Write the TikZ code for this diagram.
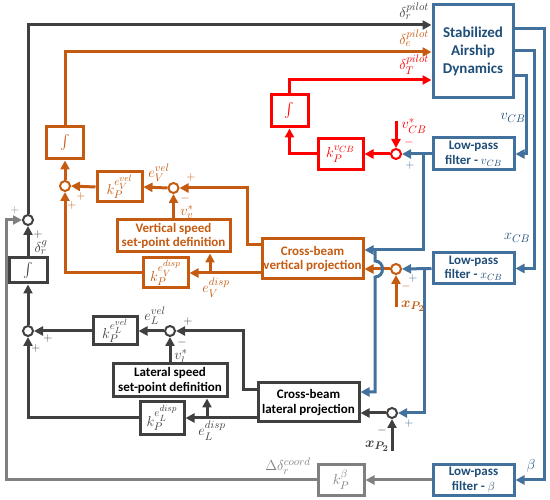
\documentclass[tikz,border=0pt]{standalone}
\usepackage{fontspec}
\setmainfont{Carlito}
\usepackage{amsmath}
\usetikzlibrary{arrows.meta,positioning}
\DeclareMathSizes{14}{14}{11}{9}
\DeclareMathSizes{15}{15}{11.5}{9.5}
\definecolor{DarkGray}{RGB}{64,64,64}
\definecolor{MidGray}{RGB}{128,128,128}
\definecolor{CBOrange}{RGB}{197,90,17}
\definecolor{CBRed}{RGB}{255,0,0}
\definecolor{SteelBlue}{RGB}{65,113,156}
\definecolor{NavyText}{RGB}{31,78,121}
\tikzset{
  blockbox/.style={draw,line width=3pt,inner sep=0pt,align=center,fill=white,
    font=\bfseries\fontsize{13}{14.5}\selectfont},
  gainbox/.style={draw,line width=3pt,inner sep=0pt,align=center,fill=white,
    font=\fontsize{14}{16}\selectfont},
  sumnode/.style={circle,draw,line width=2pt,fill=white,minimum size=10pt,inner sep=0pt},
  wire/.style={line width=3pt,-{Triangle[length=9pt,width=9pt]}},
  lbl/.style={font=\fontsize{14}{16}\selectfont,inner sep=1pt},
  sgn/.style={font=\fontsize{12}{13}\selectfont,inner sep=0pt},
}

\begin{document}
\begin{tikzpicture}[x=1pt,y=-1pt]
  \useasboundingbox (0,0) rectangle (550,500);

  % plant and filters
  \node[blockbox,draw=SteelBlue,text=NavyText,minimum width=80pt,minimum height=93pt,
    font=\bfseries\fontsize{15}{18}\selectfont] (dyn) at (473,51.5) {Stabilized\\Airship\\Dynamics};
  \node[blockbox,draw=SteelBlue,text=NavyText,minimum width=81pt,minimum height=32pt] (fv) at (473.5,154) {Low-pass\\filter - $v_{CB}$};
  \node[blockbox,draw=SteelBlue,text=NavyText,minimum width=81pt,minimum height=31pt] (fx) at (473.5,268.5) {Low-pass\\filter - $x_{CB}$};
  \node[blockbox,draw=SteelBlue,text=NavyText,minimum width=81pt,minimum height=30pt] (fb) at (473.5,480) {Low-pass\\filter - $\beta$};
  \node[gainbox,draw=MidGray,text=MidGray,minimum width=46pt,minimum height=30pt] (kb) at (341,480) {$k_P^{\beta}$};

  % thrust loop
  \node[gainbox,draw=CBRed,text=CBRed,minimum width=37pt,minimum height=32pt] (rint) at (289.5,111) {$\int$};
  \node[gainbox,draw=CBRed,text=CBRed,minimum width=45pt,minimum height=31pt] (rk) at (340.5,154) {$k_P^{v_{CB}}$};
  \node[sumnode,draw=CBRed] (rsum) at (396,154) {};

  % vertical loop
  \node[gainbox,draw=CBOrange,text=CBOrange,minimum width=37pt,minimum height=32pt] (oint) at (65,143) {$\int$};
  \node[sumnode,draw=CBOrange] (osum1) at (65,186) {};
  \node[gainbox,draw=CBOrange,text=CBOrange,minimum width=45pt,minimum height=30pt] (okv) at (119.5,187) {$k_P^{e_V^{vel}}$};
  \node[sumnode,draw=CBOrange] (osum2) at (173.5,188) {};
  \node[blockbox,draw=CBOrange,text=CBOrange,minimum width=113pt,minimum height=32pt] (osp) at (173.5,236) {Vertical speed\\set-point definition};
  \node[gainbox,draw=CBOrange,text=CBOrange,minimum width=45pt,minimum height=30pt] (okd) at (165.5,273) {$k_P^{e_V^{disp}}$};
  \node[blockbox,draw=CBOrange,text=CBOrange,minimum width=101pt,minimum height=40pt] (ovp) at (312.5,259) {Cross-beam\\vertical projection};
  \node[sumnode,draw=CBOrange] (osum3) at (396,269) {};

  % lateral loop
  \node[sumnode,draw=DarkGray] (gsum1) at (28,220) {};
  \node[gainbox,draw=DarkGray,text=DarkGray,minimum width=38pt,minimum height=25pt] (gint) at (28,270.5) {$\int$};
  \node[sumnode,draw=DarkGray] (gsum2) at (28,331) {};
  \node[gainbox,draw=DarkGray,text=DarkGray,minimum width=44pt,minimum height=28pt] (gkv) at (115,331) {$k_P^{e_L^{vel}}$};
  \node[sumnode,draw=DarkGray] (gsum3) at (170,331) {};
  \node[blockbox,draw=DarkGray,text=black,minimum width=114pt,minimum height=33pt] (gsp) at (170,380.5) {Lateral speed\\set-point definition};
  \node[gainbox,draw=DarkGray,text=DarkGray,minimum width=44pt,minimum height=33pt] (gkd) at (162,418) {$k_P^{e_L^{disp}}$};
  \node[blockbox,draw=DarkGray,text=black,minimum width=101pt,minimum height=39pt] (glp) at (308.5,402.5) {Cross-beam\\lateral projection};
  \node[sumnode,draw=DarkGray] (gsum4) at (392,413) {};

  % helper points
  \coordinate (yr) at (0,25);
  \coordinate (ye) at (0,52);
  \coordinate (yt) at (0,80);
  \coordinate (b1) at (544,29);
  \coordinate (b2) at (534,51);
  \coordinate (b3) at (526,76);
  \coordinate (vb) at (423,154);
  \coordinate (vt) at (375,250);
  \coordinate (vl) at (375,392);
  \coordinate (xb) at (424,268.5);
  \coordinate (gl) at (6,480);
  \coordinate (vcbs) at (396,121);
  \coordinate (xp1) at (396,307);
  \coordinate (xp2) at (392,451);
  \coordinate (oa) at (247,245);
  \coordinate (ob) at (210,273);
  \coordinate (ga) at (243,390);
  \coordinate (gb) at (207,418);

  % pilot inputs
  \draw[wire,DarkGray] (gsum1.north) |- (dyn.west |- yr);
  \draw[wire,CBOrange] (oint.north) |- (dyn.west |- ye);
  \draw[wire,CBRed] (rint.north) |- (dyn.west |- yt);
  \node[lbl,DarkGray,anchor=east] at (430,11) {$\delta_r^{pilot}$};
  \node[lbl,CBOrange,anchor=east] at (430,38) {$\delta_e^{pilot}$};
  \node[lbl,CBRed,anchor=east] at (430,65) {$\delta_T^{pilot}$};

  % measurements
  \draw[wire,SteelBlue] (dyn.east |- b1) -- (b1) |- (fb.east);
  \draw[wire,SteelBlue] (dyn.east |- b2) -- (b2) |- (fx.east);
  \draw[wire,SteelBlue] (dyn.east |- b3) -- (b3) |- (fv.east);
  \node[lbl,NavyText] at (513,118) {$v_{CB}$};
  \node[lbl,NavyText] at (517,238) {$x_{CB}$};
  \node[lbl,NavyText] at (531,466) {$\beta$};

  % thrust loop wires
  \draw[wire,SteelBlue] (fv.west) -- (rsum.east);
  \draw[wire,CBRed] (vcbs) -- (rsum.north);
  \draw[wire,CBRed] (rsum.west) -- (rk.east);
  \draw[wire,CBRed] (rk.west) -| (rint.south);
  \node[lbl,CBRed] at (414,126) {$v_{CB}^{*}$};
  \node[sgn,CBRed] at (409,143) {$-$};
  \node[sgn,SteelBlue] at (410,166) {$+$};

  % vertical loop wires
  \draw[wire,SteelBlue] (fx.west) -- (osum3.east);
  \draw[wire,CBOrange] (xp1) -- (osum3.south);
  \draw[wire,CBOrange] (osum3.west) -- (ovp.east |- osum3);
  \draw[wire,CBOrange] (ovp.west |- oa) -- (oa) |- (osum2.east);
  \draw[wire,CBOrange] (ovp.west |- ob) -- (okd.east);
  \draw[wire,CBOrange] (ob) -- (osp.south -| ob);
  \draw[wire,CBOrange] (osp.north) -- (osum2.south);
  \draw[wire,CBOrange] (osum2.west) -- (okv.east);
  \draw[wire,CBOrange] (okv.west) -- (osum1.east);
  \draw[wire,CBOrange] (okd.west) -| (osum1.south);
  \draw[wire,CBOrange] (osum1.north) -- (oint.south);
  \node[sgn,SteelBlue] at (413,279) {$+$};
  \node[sgn,CBOrange] at (406,287) {$-$};
  \node[lbl,CBOrange] at (413,306) {$\boldsymbol{x_{P_2}}$};
  \node[lbl,CBOrange] at (159,173) {$e_V^{vel}$};
  \node[sgn,CBOrange] at (191,178) {$+$};
  \node[sgn,CBOrange] at (185,199) {$-$};
  \node[lbl,CBOrange] at (187,212) {$v_v^{*}$};
  \node[sgn,CBOrange] at (81,197) {$+$};
  \node[sgn,CBOrange] at (72,206) {$+$};
  \node[lbl,CBOrange] at (216,288) {$e_V^{disp}$};

  % velocity feed to both projections, hopping over the orange line
  \draw[wire,SteelBlue] (vb) |- (vt) -- (ovp.east |- vt);
  \draw[wire,SteelBlue] (vt) -- (375,261) .. controls (385,261) and (385,277) .. (375,277)
    -- (vl) -- (glp.east |- vl);
  \draw[wire,SteelBlue] (xb) |- (gsum4.east);
  \node[sgn,SteelBlue] at (409,424) {$+$};

  % lateral loop wires
  \draw[wire,DarkGray] (xp2) -- (gsum4.south);
  \draw[wire,DarkGray] (gsum4.west) -- (glp.east |- gsum4);
  \draw[wire,DarkGray] (glp.west |- ga) -- (ga) |- (gsum3.east);
  \draw[wire,DarkGray] (glp.west |- gb) -- (gkd.east);
  \draw[wire,DarkGray] (gb) -- (gsp.south -| gb);
  \draw[wire,DarkGray] (gsp.north) -- (gsum3.south);
  \draw[wire,DarkGray] (gsum3.west) -- (gkv.east);
  \draw[wire,DarkGray] (gkv.west) -- (gsum2.east);
  \draw[wire,DarkGray] (gkd.west) -| (gsum2.south);
  \draw[wire,DarkGray] (gsum2.north) -- (gint.south);
  \draw[wire,DarkGray] (gint.north) -- (gsum1.south);
  \node[sgn,DarkGray] at (382,431) {$-$};
  \node[lbl,DarkGray] at (377,446) {$\boldsymbol{x_{P_2}}$};
  \node[lbl,DarkGray] at (155,316) {$e_L^{vel}$};
  \node[sgn,DarkGray] at (188,322) {$+$};
  \node[sgn,DarkGray] at (182,343) {$-$};
  \node[lbl,DarkGray] at (181,357) {$v_l^{*}$};
  \node[sgn,DarkGray] at (48,339) {$+$};
  \node[sgn,DarkGray] at (36,349) {$+$};
  \node[lbl,DarkGray] at (212,431) {$e_L^{disp}$};
  \node[sgn,DarkGray] at (38,235) {$+$};
  \node[lbl,DarkGray] at (41,248) {$\delta_r^{g}$};

  % coordination feed
  \draw[wire,MidGray] (fb.west) -- (kb.east);
  \draw[wire,MidGray] (kb.west) -- (gl) |- (gsum1.west);
  \node[sgn,MidGray] at (15,211) {$+$};
  \node[lbl,MidGray] at (288,466) {$\Delta\delta_r^{coord}$};
\end{tikzpicture}
\end{document}
